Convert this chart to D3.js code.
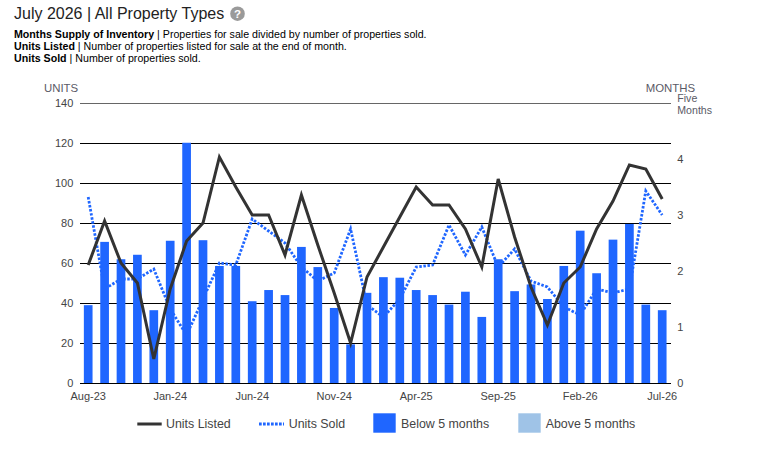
<!DOCTYPE html>
<html>
<head>
<meta charset="utf-8">
<script src="https://cdn.jsdelivr.net/npm/d3@7/dist/d3.min.js"></script>
<style>
  body { margin: 0; background: #fff; }
  svg { font-family: "Liberation Sans", Arial, sans-serif; }
</style>
</head>
<body>
<svg id="chart" width="768" height="453"></svg>
<script>
// months shown on the x axis
const months = ["Aug-23","Sep-23","Oct-23","Nov-23","Dec-23","Jan-24","Feb-24","Mar-24","Apr-24","May-24","Jun-24","Jul-24",
  "Aug-24","Sep-24","Oct-24","Nov-24","Dec-24","Jan-25","Feb-25","Mar-25","Apr-25","May-25","Jun-25","Jul-25",
  "Aug-25","Sep-25","Oct-25","Nov-25","Dec-25","Jan-26","Feb-26","Mar-26","Apr-26","May-26","Jun-26","Jul-26"];
const monthLabels = ["Aug-23","Jan-24","Jun-24","Nov-24","Apr-25","Sep-25","Feb-26","Jul-26"];

// months supply of inventory (bars, right axis)
const monthsSupply = [1.39,2.52,2.21,2.29,1.30,2.54,4.29,2.55,2.09,2.09,1.46,1.66,
  1.57,2.43,2.07,1.34,0.69,1.61,1.89,1.88,1.66,1.57,1.40,1.63,
  1.18,2.21,1.64,1.76,1.50,2.09,2.72,1.96,2.56,2.84,1.40,1.30];
// units listed (solid line, left axis)
const unitsListed = [59,81,60,50,12,47,71,80,113,98,84,84,
  64,94,69,45,20,53,68,83,98,89,89,77,
  58,102,73,48,29,50,58,77,91,109,107,92];
// units sold (dotted line, left axis)
const unitsSold = [93,47,52,52,57,37,24,42,60,59,82,76,
  70,58,51,55,77,39,33,42,58,59,79,64,
  78,58,67,51,48,38,34,47,45,47,96,84];

const unitTicks = [0,20,40,60,80,100,120,140];
const monthTicks = [0,1,2,3,4];
const threshold = 5;

const svg = d3.select("#chart");
const plotLeft = 80, plotRight = 671, plotTop = 103, plotBottom = 383;

const x = d3.scaleBand().domain(months).range([plotLeft, 670.4])
  .paddingInner(0.47).paddingOuter(0.235);
const yUnits = d3.scaleLinear().domain([0, 140]).range([plotBottom, plotTop]);
const yMonths = d3.scaleLinear().domain([0, 5]).range([plotBottom, plotTop]);
const cx = d => x(d) + x.bandwidth() / 2;

// title block
svg.append("text").attr("x", 14).attr("y", 18.5)
  .attr("font-size", 16).attr("fill", "#222")
  .text("July 2026 | All Property Types");
svg.append("circle").attr("cx", 237.5).attr("cy", 13.7).attr("r", 7.3).attr("fill", "#9a9a9a");
svg.append("text").attr("x", 237.5).attr("y", 17.8).attr("text-anchor", "middle")
  .attr("font-size", 11.5).attr("font-weight", "bold").attr("fill", "#fff").text("?");

const desc = [
  ["Months Supply of Inventory", " | Properties for sale divided by number of properties sold."],
  ["Units Listed", " | Number of properties listed for sale at the end of month."],
  ["Units Sold", " | Number of properties sold."]
];
desc.forEach((d, i) => {
  const t = svg.append("text").attr("x", 14).attr("y", 37.5 + i * 12)
    .attr("font-size", 10.65).attr("fill", "#000");
  t.append("tspan").attr("font-weight", "bold").text(d[0]);
  t.append("tspan").text(d[1]);
});

// axis titles
svg.append("text").attr("x", 44).attr("y", 91.7).attr("font-size", 11.4).attr("fill", "#5a5a66").text("UNITS");
svg.append("text").attr("x", 695).attr("y", 91.5).attr("text-anchor", "end")
  .attr("font-size", 11.4).attr("fill", "#5a5a66").text("MONTHS");
svg.append("text").attr("x", 677.3).attr("y", 101.5).attr("font-size", 10.6).attr("fill", "#5a5a66").text("Five");
svg.append("text").attr("x", 677.3).attr("y", 114).attr("font-size", 10.6).attr("fill", "#5a5a66").text("Months");

// left axis + gridlines
const gy = svg.append("g").attr("transform", `translate(${plotLeft},0)`)
  .call(d3.axisLeft(yUnits).tickValues(unitTicks).tickSize(-(plotRight - plotLeft)).tickPadding(6.7));
gy.select(".domain").remove();
gy.selectAll(".tick line").attr("stroke", d => d === 140 ? "#666" : "#000").attr("stroke-width", 1.2);
gy.selectAll(".tick text").attr("font-size", 11).attr("fill", "#444")
  .attr("font-family", "Liberation Sans, Arial, sans-serif");

// bars
svg.append("g").selectAll("rect").data(monthsSupply).join("rect")
  .attr("x", (d, i) => x(months[i]))
  .attr("width", x.bandwidth())
  .attr("y", d => yMonths(d))
  .attr("height", d => plotBottom - yMonths(d))
  .attr("fill", d => d < threshold ? "#1f66ff" : "#9fc3e7");

// right axis
const gr = svg.append("g").attr("transform", `translate(${plotRight},0)`)
  .call(d3.axisRight(yMonths).tickValues(monthTicks).tickFormat(d3.format("d"))
    .tickSize(0).tickPadding(6.3));
gr.select(".domain").remove();
gr.selectAll(".tick text").attr("font-size", 11).attr("fill", "#444")
  .attr("font-family", "Liberation Sans, Arial, sans-serif");

// bottom axis labels
const gx = svg.append("g").attr("transform", `translate(0,${plotBottom})`)
  .call(d3.axisBottom(x).tickValues(monthLabels).tickSize(0).tickPadding(8.7));
gx.select(".domain").remove();
gx.selectAll(".tick text").attr("font-size", 11).attr("fill", "#444")
  .attr("font-family", "Liberation Sans, Arial, sans-serif");

// lines
const unitLine = d3.line().x((d, i) => cx(months[i])).y(d => yUnits(d));
svg.append("path").datum(unitsSold).attr("d", unitLine)
  .attr("fill", "none").attr("stroke", "#1f66ff").attr("stroke-width", 2.8)
  .attr("stroke-dasharray", "2.5,1.6");
svg.append("path").datum(unitsListed).attr("d", unitLine)
  .attr("fill", "none").attr("stroke", "#333").attr("stroke-width", 3)
  .attr("stroke-linejoin", "miter");

// legend
const lg = svg.append("g").attr("font-size", 12.4).attr("fill", "#444");
lg.append("line").attr("x1", 137.3).attr("x2", 161.7).attr("y1", 424).attr("y2", 424)
  .attr("stroke", "#333").attr("stroke-width", 3);
lg.append("text").attr("x", 166).attr("y", 427.5).text("Units Listed");
lg.append("line").attr("x1", 259).attr("x2", 284).attr("y1", 424).attr("y2", 424)
  .attr("stroke", "#1f66ff").attr("stroke-width", 3).attr("stroke-dasharray", "2.7,1.3");
lg.append("text").attr("x", 288.7).attr("y", 427.5).text("Units Sold");
lg.append("rect").attr("x", 373.3).attr("y", 413.3).attr("width", 22.4).attr("height", 19.4).attr("fill", "#1f66ff");
lg.append("text").attr("x", 401).attr("y", 427.5).text("Below 5 months");
lg.append("rect").attr("x", 518.3).attr("y", 413.3).attr("width", 22.4).attr("height", 19.4).attr("fill", "#9fc3e7");
lg.append("text").attr("x", 545.7).attr("y", 427.5).text("Above 5 months");
</script>
</body>
</html>
